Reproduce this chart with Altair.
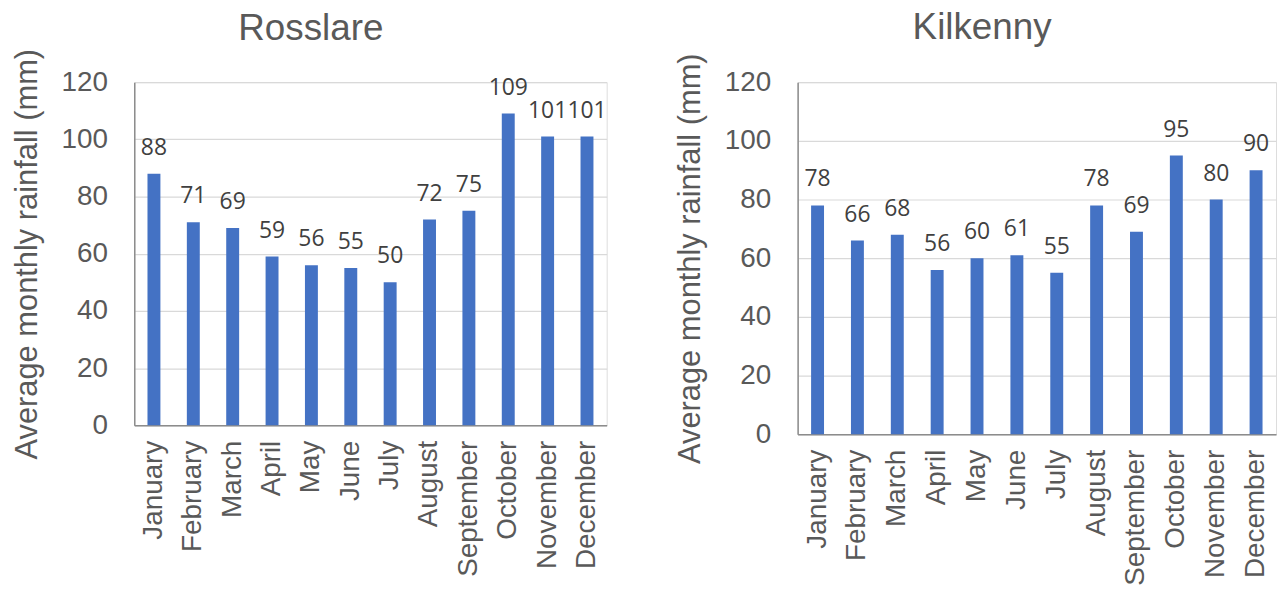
import altair as alt
import pandas as pd

months = ["January", "February", "March", "April", "May", "June", "July",
          "August", "September", "October", "November", "December"]
rosslare_mm = [88, 71, 69, 59, 56, 55, 50, 72, 75, 109, 101, 101]
kilkenny_mm = [78, 66, 68, 56, 60, 61, 55, 78, 69, 95, 80, 90]
y_ticks = [0, 20, 40, 60, 80, 100, 120]

BAR_BLUE = "#4472C4"
TEXT_GREY = "#595959"
FONT = "Liberation Sans"


def station_panel(name, values, width, height, title_offset, title_dx):
    df = pd.DataFrame({"month": months, "rain": values})
    base = alt.Chart(df).encode(
        x=alt.X("month:N", sort=months, title=None,
                scale=alt.Scale(paddingInner=0, paddingOuter=0),
                axis=alt.Axis(labelAngle=-90, labelFontSize=28, labelFont=FONT,
                              labelColor=TEXT_GREY, labelPadding=15, ticks=False,
                              domainColor="#8c8c8c", domainWidth=1.5, grid=False,
                              labelBaseline="middle", labelAlign="right")),
        y=alt.Y("rain:Q", title="Average monthly rainfall (mm)",
                scale=alt.Scale(domain=[0, 120], nice=False),
                axis=alt.Axis(values=y_ticks, labelFontSize=28, labelFont=FONT,
                              labelColor=TEXT_GREY, labelPadding=27, ticks=False,
                              domainColor="#8c8c8c", domainWidth=1.5,
                              gridColor="#d9d9d9", gridWidth=1.2,
                              titleFontSize=31, titleFont=FONT, titleColor=TEXT_GREY,
                              titleFontWeight="normal", titlePadding=18)),
    )
    bars = base.mark_bar(size=13, color=BAR_BLUE)
    labels = base.mark_text(baseline="alphabetic", dy=-19, fontSize=23,
                            font="Open Sans", color="#404040").encode(
        text=alt.Text("rain:Q", format="d"))
    return (bars + labels).properties(
        width=width, height=height,
        title=alt.TitleParams(name, fontSize=37, font=FONT, color=TEXT_GREY,
                              fontWeight="normal", anchor="middle", frame="group",
                              offset=title_offset, dx=title_dx),
    )


left = station_panel("Rosslare", rosslare_mm, 475, 345, 0, -60)
right = station_panel("Kilkenny", kilkenny_mm, 481, 354, 6, -55)

chart = alt.hconcat(left, right, spacing=66).configure_view(
    stroke=None
).configure(padding={"left": 10, "top": 7, "right": 0, "bottom": 0}, background="white")

chart.save("out.html", embed_options={"renderer": "svg", "actions": False})
